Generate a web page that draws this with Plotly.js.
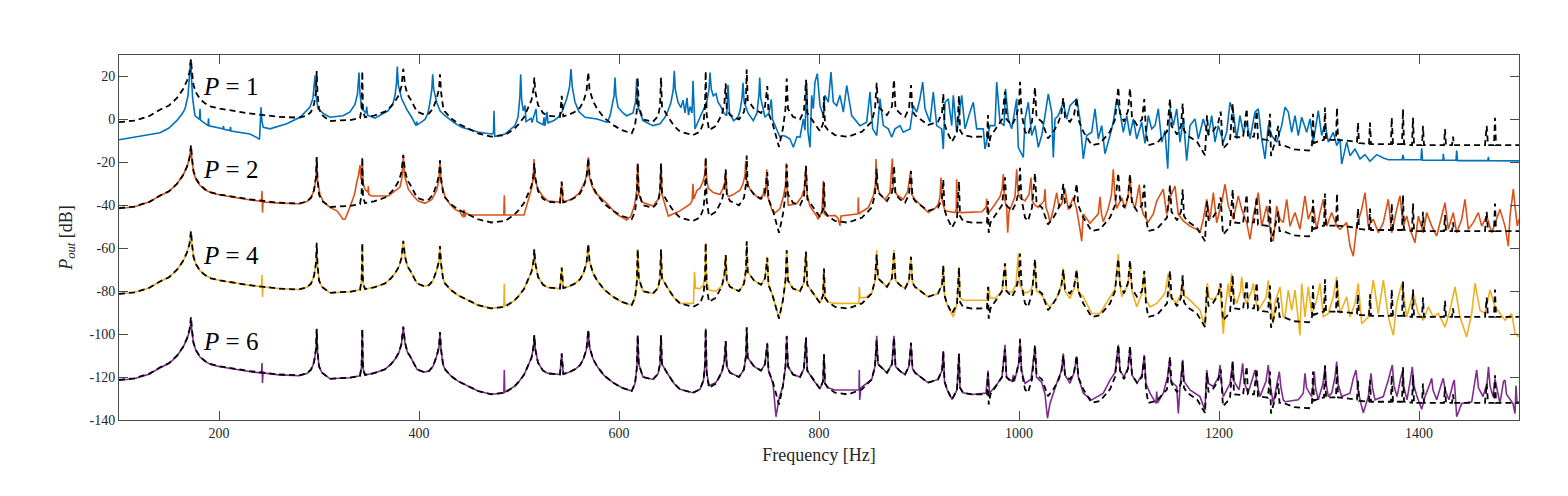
<!DOCTYPE html>
<html>
<head>
<meta charset="utf-8">
<script src="https://cdn.plot.ly/plotly-3.0.1.min.js"></script>
<style>html,body{margin:0;padding:0;background:#fff;}#chart{width:1568px;height:496px;}</style>
</head>
<body>
<div id="chart"></div>
<script>
// Level offsets (dB) applied to each P-series and its dashed reference
const offsets = [0, -40, -80, -120];
const seriesNames = ["P = 1", "P = 2", "P = 4", "P = 6"];
const seriesColors = ["#0072BD", "#D95319", "#EDB120", "#7E2F8E"];
const xTickVals = [200, 400, 600, 800, 1000, 1200, 1400];
const xTickText = ["200", "400", "600", "800", "1000", "1200", "1400"];
const yTickVals = [-140, -120, -100, -80, -60, -40, -20, 0, 20];
const yTickText = ["-140", "-120", "-100", "-80", "-60", "-40", "-20", "0", "20"];
const labelY = [15.2, -23.1, -63.3, -103.5];

// Dashed reference response [Hz, dB relative to the series level]
const refCurve = [[100,-1.3],[115,-0.6],[130,1.5],[141,4.5],[150,6.5],[158,10],[164,14],[168,18],[170.5,22],[172,28],[173,22],[174.5,16],[177,12.5],[181,9.5],[186,7.5],[192,6],[201,5],[215,3.8],[230,2.8],[245,2],[260,1.2],[280,0.8],[288,1.8],[292,3.5],[295,7],[297,13],[297.7,22.5],[298.5,12],[300,5],[303,2],[311,-0.8],[320,-0.5],[331,-0.3],[341,0.6],[342.6,5],[343.3,22.5],[344,4],[346,1],[355,1.8],[366,3.6],[372,6],[376,8.3],[380,11.5],[382.5,15.5],[384.3,23.5],[386,16],[388.5,11.5],[391,9.8],[398,3.6],[405,2.3],[410,2.8],[414,5],[417.7,9.8],[420,14],[421,21],[422,13],[424,6],[426,3.6],[432,0.5],[439,-1.9],[450,-4.5],[459,-6.5],[472,-8],[486,-7.3],[495,-4.5],[499,-2.6],[505,1],[509,5],[512.5,9],[514.5,14],[515.3,19.5],[516.3,13],[519,6.7],[524,3],[529,1.7],[541,1.2],[542.7,11],[544.3,1.4],[550,2.2],[556,3.6],[561,5.5],[564.5,8.5],[567.5,13],[569.3,22],[570.5,14],[574,8.5],[578,5.1],[585,0.8],[594,-2.6],[603,-5],[612.7,-6.5],[616,-3],[617.8,4],[618.7,19.5],[619.8,6],[624,0],[634,-1.1],[639,1.5],[641,6],[642,19.5],[643,6],[648,2],[655,-3],[661,-5.7],[674,-7.3],[681,-5.7],[684.5,-1.5],[686,6],[686.7,22.5],[687.7,2],[690,-5],[697,-3],[703,2.5],[705.5,8],[706.7,16.8],[707.8,5],[711,2],[720,0],[725,3.5],[727,10],[727.7,23.2],[728.7,9],[735,5],[742,3],[746,6],[748.3,15.5],[749.5,3],[754,-2.6],[760,-12.8],[764,-4],[766.5,5],[767.7,19],[769,5],[774,1.2],[781,0],[785,4],[787,18.4],[788.3,3],[794,-1.1],[801,-5.5],[804,-2],[805,10.6],[806,-3],[809,-5],[816,-7.3],[829,-8.1],[843,-5.7],[852.7,-1.1],[856,5],[857.7,17],[859,6],[863,4],[868,2],[873,6],[875,18.5],[876.5,5],[881,2.8],[886,1.2],[890,5],[892,16],[893.5,4],[896,2],[909,-2.6],[919,-1.1],[923,3],[924.3,12],[925.5,-2],[928,-5.7],[933,-10.4],[938,-6],[940,11],[941,-5],[944,-7.3],[953,-8.1],[968,-8],[969,2],[969.7,-12.8],[971.5,-8],[978,-3.4],[983,0],[986,13],[987.5,0],[993,-2.6],[997,1],[1000,7],[1001,17.5],[1002.5,3],[1006,-5.7],[1009,-7.3],[1013,-1],[1016,15],[1017.5,1],[1023,-1.1],[1029,-8.9],[1034,-6],[1039,-2],[1042.5,3],[1044.3,10],[1046,1],[1051,-1.1],[1055,2],[1057.7,10],[1059.3,0],[1064.3,-5.7],[1072.7,-12],[1081,-11.2],[1091,-5.7],[1096,0],[1099.3,15],[1101,3],[1105,-1],[1109,4],[1111,14.5],[1113,1],[1118,-2.6],[1123,0],[1125.3,9.5],[1127,-6],[1129.3,-12],[1138,-11],[1148,-5.7],[1151,9.5],[1152.5,-3],[1158,-7],[1162,-3],[1163.7,7.4],[1165,-5],[1168,-7.3],[1178,-10.4],[1186,-16.7],[1188,1.9],[1189.5,-7],[1194,-5.5],[1199,-2],[1201.7,3.6],[1203,-10],[1204,-13.6],[1211,-10],[1213.7,7.4],[1215,-8],[1224,-8.5],[1227.7,5],[1229,-8],[1235,-8],[1237.7,4],[1239,-9],[1249,-9.6],[1251,2.6],[1252,-17],[1255,-12],[1259.3,-3],[1260.5,-12],[1264,-12],[1275,-14],[1290,-14.5],[1293,-12],[1294,2.6],[1295,-11],[1300,-10],[1305,-9.5],[1306,5.5],[1307,-9.5],[1317,-9.5],[1318,5.5],[1319,-9.5],[1330,-10],[1338,-10.5],[1339,-1.5],[1340,-11],[1350,-11.5],[1351,-1.5],[1352,-11.5],[1372,-11.5],[1372.7,0.8],[1374,-11.5],[1383,-11.5],[1384,4.7],[1385,-11.5],[1393,-12],[1394,0.8],[1395,-12],[1403,-12],[1404,-3],[1405,-12],[1425,-12],[1426,-4.5],[1427,-12],[1433,-12],[1434,-8],[1435,-12],[1466,-12],[1467.7,-3],[1469,-12],[1475,-12],[1476,0.8],[1477,-12],[1500,-12]];

// P = 1 (blue) [Hz, dB relative]
const p1Curve = [[100,-9.5],[120,-8],[141,-6.2],[150,-4],[157.7,-0.6],[163,2.5],[166,4.9],[169,11],[170.8,20],[171.7,28],[172.6,18],[173.7,9.6],[176,1.7],[180.5,0],[181,4.9],[181.5,-0.3],[189,-2.9],[189.5,0.5],[190,-3],[204,-4.4],[204.5,-3],[205,-4.6],[211,-5.2],[211.5,-3.5],[212,-5.4],[231,-6.8],[238,-8.5],[240.5,-9.3],[242,5.7],[243,-1],[244.3,-3.7],[251,-4.4],[267.7,-2],[281,1],[291,5.7],[294,10],[296,20.4],[297,11],[299,5],[305,2.5],[311,1],[324,1.7],[331,3.5],[336,7],[338.5,12],[340,21.8],[341,12],[342.7,5],[347,3],[347.7,6],[348.5,2],[356,0.6],[369,4],[374,7.5],[376,11],[377.5,17],[378.3,24.6],[379.3,16],[382.7,9.6],[388,4.5],[392.7,1],[397,-2.9],[397.7,-1],[398.5,-2.5],[406,0],[409,3],[411,8],[412.8,14],[413.7,21],[414.7,14],[417.7,8],[421,4],[426,1.7],[435,-1.5],[442.7,-3.7],[459,-5.9],[472,-6.8],[474.5,-6.5],[475,4],[475.7,-8],[486,-6.8],[496,-2.9],[499,1],[500.8,10],[501.7,21],[502.7,9],[504.3,4],[506,6.5],[507,-1],[512,0.5],[513,-1.5],[517,4.9],[518,-1],[524,-2.5],[525,1],[526,-3],[528,3.5],[529,-1.6],[535,-0.5],[539.3,1],[543,3.5],[545.5,6.5],[547.7,9.6],[550.5,15],[552,23.4],[553.3,15],[556,8],[560,3.5],[566,1],[578,0.2],[588,-1.3],[591,1.5],[592.7,4.9],[595,11],[596,19.5],[597,11],[599,5.7],[604,3],[607.7,1.7],[614,3],[616.5,8],[617.7,18.9],[619,6],[624,-0.6],[634,-2.9],[641,-2],[646,1],[649,4],[652,8],[654.3,14],[655.3,22.6],[656.3,14],[659,8],[662,5.5],[664,9],[666,3],[668,10],[669.5,2],[671,6],[673,3],[674,18],[675,2],[676,-4.4],[681,1],[685,5],[687.7,8],[690,14],[691,21.8],[692.3,14],[694.3,11],[697,12],[699,8],[701,6.6],[705,3],[707.7,1.7],[709,16],[710.5,3],[714.7,-0.6],[719,1],[721,4],[723,10],[724,17],[725.2,8],[729,3],[734.3,-0.6],[738,3],[740,12],[740.7,19.5],[741.7,10],[746,1],[750,3],[752.3,9.3],[753.5,0],[757.7,-4.4],[761,-8.3],[764,-7.5],[767,-8],[771,-9.1],[774.3,-13],[778,-8],[781,-8.3],[784.3,0.2],[786,-5],[787.7,17],[789,-6],[791,-13],[792.7,11.2],[794.3,5],[796,17.4],[798.3,21.3],[801,6.4],[804.3,1.8],[806,11.2],[809.3,8],[812,22],[814.3,8],[817.7,6.4],[821,11.2],[824.3,3.4],[827.7,15.8],[832.7,1.8],[841,-2.9],[847.7,-1.3],[851,12.7],[853.7,-4.4],[857.7,-7.5],[861,9.6],[864.3,-2.9],[869.3,-4.4],[872.7,-8.3],[876,-4.4],[881,-2.9],[884.3,-6],[891,-4.4],[894.3,6.4],[897.7,3.4],[901,9.6],[903.7,17.4],[906,4.9],[911,-1.3],[914.3,12.7],[917.7,-2.9],[922.7,-4.4],[924.3,-13.8],[926,8],[929.3,9.6],[932.7,-2.9],[934.3,11.2],[937.7,-6],[942.7,11.2],[946,-4.4],[951,3.4],[954.3,8],[957.7,-4.4],[964.3,-4.4],[966,-13.8],[971,-2.9],[976,-2.9],[977.7,17.4],[981,-1.3],[985,-2.9],[986.5,14.3],[989.3,0.2],[992.7,-4.4],[997.7,9.6],[999.3,-13],[1004.3,-17.7],[1006,0.2],[1009.3,8],[1012.7,-7.5],[1016,-2.9],[1019.3,-13],[1022.7,-7.5],[1026,1.8],[1029.3,11.9],[1032.7,3.4],[1034.3,-17.7],[1036,0.2],[1039.3,1.8],[1044.3,8],[1047.7,0.2],[1051,6.4],[1054.3,8],[1057.7,9.6],[1061,0.2],[1064.3,-18.4],[1067.7,-7.5],[1072.7,-6],[1076,4.9],[1079.3,-9.1],[1082.7,-2.9],[1086,-16],[1091,-7.5],[1094.3,-1.3],[1097.7,9.6],[1101,3.4],[1104.3,-6],[1107.7,1.8],[1111,-7.5],[1114.3,0.2],[1117.7,-9.1],[1122.7,-1.3],[1126,-11.2],[1129.3,1.8],[1132.7,-4.4],[1136,-2.9],[1139.3,4.9],[1142.7,-10.6],[1146,-5.2],[1148.7,-23],[1151,4.9],[1154.3,-2.9],[1157.7,4.9],[1161,-10.6],[1164.3,0.2],[1167.7,-19.2],[1171,-2.9],[1176,0.2],[1179.3,-9.1],[1184.3,0.2],[1189.3,-7.5],[1192.7,1.8],[1196,-10.6],[1199.3,-2.9],[1204.3,-10.6],[1207.7,-6],[1211,8],[1214.3,3.4],[1217.7,-9.1],[1221,1.8],[1224.3,-6],[1227.7,-1.3],[1231,-9.1],[1236,3.4],[1239.3,4.9],[1242.7,-9.1],[1246,-18.4],[1249.3,-2.9],[1252.7,-7.5],[1257.7,-10.6],[1262.7,-2.9],[1266,5.7],[1269.3,3.4],[1272.7,-6],[1276,1.8],[1279.3,-7.5],[1282.7,1],[1287.7,-6],[1291,0.2],[1294.3,-10.6],[1299.3,4.1],[1302.7,-7.5],[1306,-2],[1309.3,-10.6],[1314.3,-6],[1317.7,-12.2],[1321,-9.1],[1322.7,-20.8],[1327.7,-10.6],[1331,-16.9],[1336,-13.8],[1341,-18.4],[1346,-16.4],[1351,-19.5],[1357.7,-16.4],[1364.3,-18],[1369.3,-18.8],[1375,-18.8],[1383,-18.8],[1384,-16.5],[1385,-18.8],[1402,-18.8],[1402.7,-13.5],[1403.5,-19],[1424,-19],[1424.3,-16],[1425,-19],[1437,-19],[1437.7,-14.5],[1438.5,-19.2],[1469,-19.2],[1469.3,-17.5],[1470,-19.2],[1500,-19.3]];

// P = 2 (orange) [Hz, dB relative]
const p2Curve = [[100,-1.5],[115,-0.8],[130,1.5],[141,4.5],[150,6.5],[158,10],[164,14],[168,18],[170.5,22],[172,27],[173,21],[174.5,15.5],[177,12],[181,9.2],[186,7.2],[192,5.8],[201,4.8],[215,3.6],[230,2.6],[242.5,1.8],[243,6.7],[243.5,-3.4],[244,1.5],[260,1],[280,0.7],[288,1.8],[292,3.5],[295,7],[297,13],[297.7,22.3],[298.5,12],[301,5],[304,2],[311,-1.1],[318,-2.6],[324,-6.5],[326,-6.5],[330,-2],[332.7,1.2],[335.5,5],[337.7,10.6],[339.5,14],[341,18.7],[342,12],[343.3,20],[344.3,10],[346,7.5],[349,6],[349.3,9],[349.8,5],[352.7,4.3],[369.3,4.3],[376,6.7],[381,8.5],[383,13],[384.3,23],[385.5,14],[389.3,7.5],[395,4],[399.3,2],[406,0.9],[412.7,2.6],[417.7,7],[420,12],[421,20.7],[422,11],[426,4],[431,0.5],[436,-1.9],[441,-3],[444,-5.5],[445,-2],[446,-5.5],[447,-3.5],[450,-4.5],[484.8,-4.5],[485.3,4.7],[485.8,-4.5],[505,-4.5],[507.7,-0.3],[510,3],[512.7,8],[514.3,13],[515,21.5],[516,12],[519,7.5],[524,4],[529,2],[541,1.5],[542.7,10.6],[544,1.5],[552.7,2.8],[560,5.5],[563,8],[566,11],[568,15],[569.3,22.3],[570.5,13],[573,9],[576,6],[587.7,0.9],[597.7,-4.2],[607.7,-6.9],[612,-5],[615.5,0],[617.8,7],[618.7,19.6],[619.8,5],[622.7,1.5],[634.3,-0.3],[639.3,3],[641,7],[642,19.2],[643,5],[649.3,-5],[661,-2.6],[671,0.5],[673,2],[674,10],[674.7,3],[676,5],[678,7],[681,8],[684,11],[686,15],[686.7,21.5],[687.7,12],[689.3,8],[694.3,5.9],[701,5],[704,8],[706,11],[706.7,16],[707.8,6],[709.3,4],[714.3,5],[721,7],[724,10],[726,14],[726.7,20.7],[727.8,11],[731,7.5],[737.7,4],[741,3],[744.3,5],[745,8],[745.7,4],[747,9],[747.7,16.8],[748.8,4],[752.7,-1.9],[756,-3.5],[761,-1.5],[764.3,4],[766.5,9],[767.3,19.6],[768.3,6],[769.3,0],[777.7,0.8],[782.7,4],[785.5,8],[787,18],[788.2,5],[791,-0.5],[797.7,-5],[799,-6.5],[803,-3],[804.3,11.4],[805.2,-4],[808,-5],[816,-4.7],[819,-6],[821,-9.6],[822,-5],[836,-4.2],[839,-4],[839.3,3.6],[839.8,-4],[842.7,-3],[849.3,-1.1],[854.3,4.3],[856.5,10],[857,21.5],[858,9],[861,5],[866,2.7],[871,6],[873.3,21.8],[874.3,8],[877.7,5],[884.3,2.8],[888.7,6.5],[891.7,16],[892.8,5],[896,2.7],[909.3,-3.4],[916,-1.5],[919.3,0.5],[921,4],[922,12.9],[923.2,2],[926,-2.6],[936,-3.4],[937.2,-2],[937.7,12.1],[938.3,-3],[942.7,-3.4],[962.7,-3],[967,-1],[967.7,3],[968.3,-3],[970,-3.4],[976,0.5],[981,4],[983.3,8],[984.3,14.5],[985.5,3],[987.7,-1],[988.7,-12.8],[990,-3],[992.7,0],[996,4],[997.7,16.8],[999,6],[1001,3.5],[1006,2],[1010,5],[1012,12.9],[1013.3,2],[1016,0],[1019.3,-1],[1025,2],[1026,7.5],[1027,-1],[1029.3,-4.2],[1031,-8],[1034.3,-2],[1037.7,5.9],[1040,-1],[1042.7,0.5],[1046,7.5],[1049.3,-2],[1054.3,3.6],[1057.7,-2],[1061,-11.2],[1062.7,-16.7],[1064.3,-4],[1071,-8.4],[1079.3,-4],[1081,4],[1082.5,-4],[1084.3,-7.7],[1089.3,-1.5],[1092.5,5],[1094.3,16.8],[1096,4],[1097.7,-1.5],[1102.7,3.6],[1106,-1.5],[1109,4],[1111,13.7],[1112.5,3],[1116,-1.5],[1120.3,9.6],[1122,0],[1124.3,-4.2],[1129.3,-7.7],[1134.3,-4],[1137.7,2],[1144.3,7.5],[1147.7,-4.2],[1151,3.6],[1156,9],[1159.3,-4.2],[1164.3,-7.3],[1171,-9.7],[1177.7,-11.2],[1181,-12.8],[1184.3,-6.5],[1187.7,2.8],[1191,-6.5],[1194.3,5.9],[1197.7,-8.1],[1202.7,1.2],[1206,9.8],[1209.3,-0.3],[1214.3,-6.5],[1219.3,4.4],[1222.7,-1.9],[1227.7,-8.1],[1231,-15.9],[1234.3,-5],[1239.3,5.9],[1242.7,-9.7],[1247.7,-0.3],[1252.7,-15.9],[1254.3,-16.7],[1257.7,-0.3],[1261,-6.5],[1264.3,-8],[1267.7,2.8],[1271,-9.7],[1276,-3.4],[1281,-11.2],[1286,4.4],[1289.3,-6.5],[1294.3,-0.3],[1297.7,-11.2],[1301,-3.4],[1304.3,2.8],[1307.7,-9.7],[1312.7,-3.4],[1317.7,-9.7],[1321,-11.2],[1327.7,-8.1],[1331,-19],[1334.3,-23.7],[1337.7,-9.7],[1342.7,-1.9],[1346,5.9],[1349.3,-9.7],[1354.3,-6.5],[1359.3,-12.8],[1364.3,-8.1],[1369.3,2.8],[1372.7,-12.8],[1377.7,-1.9],[1381,4.4],[1384.3,-9.7],[1387.7,-5],[1391,-11.2],[1396,-17.4],[1399.3,-5],[1404.3,-12.8],[1407.7,-3.4],[1412.7,-9.7],[1417.7,-14.3],[1422.7,-5],[1426,1.2],[1429.3,-11.2],[1434.3,-3.4],[1437.7,-12.8],[1442.7,-6.5],[1446,2.8],[1449.3,-11.2],[1454.3,-8.1],[1459.3,-3.4],[1462.7,-9.7],[1467.7,-5],[1472.7,-12.8],[1477.7,-6.5],[1481,-1.9],[1486,-9.7],[1489.3,-19],[1491,-5],[1494.3,7.5],[1496,-0.3],[1498.3,-9.7],[1500,-6.5]];

// P = 4 (yellow) [Hz, dB relative]
const p4Curve = [[100,-1.2],[115,-0.6],[130,1.5],[141,4.5],[150,6.5],[158,10],[164,14],[168,18],[170.5,22],[172,27.5],[173,22],[174.5,16],[177,12.5],[181,9.5],[186,7.5],[192,6],[201,5],[215,3.8],[230,2.8],[242.5,2],[243,7.5],[243.5,-2.7],[244,2],[260,1.2],[280,0.8],[288,1.8],[292,3.5],[295,7],[297,13],[297.7,21.5],[298.5,12],[300,5],[303,2],[311,-0.8],[320,-0.5],[331,-0.3],[341,0.6],[342.6,5],[343.3,21.8],[344,4],[346,1],[355,1.8],[366,3.6],[372,6],[376,8.3],[380,11.5],[382.5,15.5],[384.3,23],[386,16],[388.5,11.5],[391,9.8],[398,3.6],[405,2.3],[410,2.8],[414,5],[417.7,9.8],[420,14],[421,20.7],[422,13],[424,6],[426,3.6],[432,0.5],[439,-1.9],[450,-4.5],[459,-6.5],[472,-8],[484.8,-7.4],[485.3,3.6],[485.8,-6.8],[495,-4.5],[499,-2.6],[505,1],[509,5],[512.5,9],[514.5,14],[515.3,19.5],[516.3,13],[519,6.7],[524,3],[529,1.7],[541,1.2],[542.7,10.6],[544.3,1.4],[550,2.2],[556,3.6],[561,5.5],[564.5,8.5],[567.5,13],[569.3,21.5],[570.5,14],[574,8.5],[578,5.1],[585,0.8],[594,-2.6],[603,-5],[612.7,-6.5],[616,-3],[617.8,4],[618.7,19.5],[619.8,6],[624,0],[634,-1.1],[639,1.5],[641,6],[642,19.5],[643,6],[648,2],[655,-3],[661,-5.7],[674.5,-5.7],[675.5,9],[676.5,1.5],[681,1.2],[684.5,3],[686,8],[686.7,22.6],[687.7,4],[690,0.5],[697,0],[703,2.5],[705.5,8],[706.7,16.8],[707.8,5],[711,2],[720,0],[725,3.5],[727,10],[727.7,23],[728.7,9],[735,5],[742,3],[746,6],[748.3,16],[749.5,3],[754,-2.6],[760,-12.8],[764,-4],[766.5,5],[767.7,19.2],[769,5],[774,1.2],[781,0],[785,4],[787,18.4],[788.3,3],[794,-1.1],[801,-5.5],[804,-2],[805,10.6],[806,-3],[809,-5],[816,-5.7],[840,-5.7],[840.3,1.9],[841,-3],[846,-3],[852.7,-1.1],[856,5],[857.7,19.2],[859,6],[863,4],[868,2],[873,6],[875,19.2],[876.5,5],[881,2.8],[886,1.2],[890,5],[892,16],[893.5,4],[896,2],[909,-2.6],[919,-1.1],[923,3],[924.3,12.1],[925.5,-2],[928,-6],[934.3,-12],[938,-6],[940,11.4],[941,-3],[944.3,-4.2],[968,-4.2],[969,-3],[970,2],[971,-3],[976,-3.4],[983,0],[986,12.3],[987.5,0],[993,-0.5],[997,3],[999.3,17.6],[1000.5,3],[1006,-1],[1011,0],[1014,3],[1016,12.3],[1017.5,0],[1023,-2],[1029,-6.5],[1031,-7.3],[1037.7,-3],[1042.5,3],[1044.3,10.6],[1046,0],[1051,-3.4],[1055,1],[1057.7,10.1],[1059.3,0],[1064.3,-2.6],[1072.7,-10.4],[1081,-10.4],[1091,-2.6],[1096,1],[1099.3,17.3],[1101,3],[1102.7,-2.6],[1109,3],[1111,12.9],[1113,0],[1117.7,-7.3],[1123,-1],[1125.3,8.3],[1127,-4],[1131,-7.3],[1137.7,-5.7],[1146,-1],[1149.3,8.3],[1151,-2],[1157.7,-5.7],[1162,-1],[1163.7,6.7],[1165,-2],[1171,-4.2],[1181,-8.9],[1186,-16.7],[1187.5,0],[1188.3,3.6],[1190,-3],[1194.3,-4.2],[1199.5,-1],[1201,3.6],[1202.5,-8],[1204.3,-19.8],[1206,-8],[1209.3,3.6],[1210.5,-3],[1212.7,8.3],[1214.5,-2],[1217.7,-5.7],[1221.5,0],[1222.7,6.7],[1224.5,-2],[1227.7,-5.7],[1232.5,0],[1234.3,3.6],[1236,-3],[1239.3,-8.9],[1247,-3],[1249.3,5.1],[1251,-3],[1252.7,-10.4],[1254.3,-15.1],[1256,-5],[1261,2],[1262.5,-5],[1264.3,-12],[1266,-12],[1269.3,0.5],[1272.7,-8.9],[1276,0.5],[1281,-20.6],[1282.7,3.6],[1286,-12],[1289.3,2],[1292.7,-10.4],[1297.7,-4.2],[1301,3.6],[1304.3,-12],[1309.3,-10.4],[1314.3,-2.6],[1317.7,6.7],[1321,-10.4],[1327.7,-2.6],[1331,-12],[1336,-5.7],[1339.3,3.6],[1342.7,-15.1],[1349.3,-12],[1354.3,5.1],[1359.3,-10.4],[1364.3,5.1],[1369.3,-12],[1374.3,-20.6],[1377.7,-5.7],[1382.7,3.6],[1387.7,-12],[1394.3,-1],[1399.3,-10.4],[1404.3,-13.5],[1409.3,-7.3],[1414.3,-12],[1419.3,-10.4],[1426,-16.7],[1431,-8.9],[1436,2],[1441,-12],[1447.7,-21.3],[1452.7,-10.4],[1456,3.6],[1461,-8.9],[1466,-10.4],[1471,0.5],[1476,-7.3],[1481,-10.4],[1486,-13.5],[1492.7,-10.4],[1496,-19.5],[1500,-21.3]];

// P = 6 (purple) [Hz, dB relative]
const p6Curve = [[100,-1.5],[115,-0.8],[130,1.3],[141,4.3],[150,6.3],[158,9.8],[164,13.8],[168,17.8],[170.5,21.5],[172,25.8],[173,21],[174.5,15.8],[177,12.3],[181,9.3],[186,7.3],[192,5.8],[201,4.8],[215,3.6],[230,2.6],[242.5,1.9],[243,6.5],[243.5,-2.8],[244,1.9],[260,1],[280,0.6],[288,1.6],[292,3.3],[295,6.8],[297,13],[297.7,22],[298.5,12],[300,5],[303,2],[311,-0.8],[320,-0.5],[331,-0.3],[341,0.6],[342.6,5],[343.3,22],[344,4],[346,1],[355,1.8],[366,3.6],[372,6],[376,8.3],[380,11.5],[382.5,15.5],[384.3,23],[386,16],[388.5,11.5],[391,9.8],[398,3.6],[405,2.3],[410,2.8],[414,5],[417.7,9.8],[420,14],[421,20.7],[422,13],[424,6],[426,3.6],[432,0.5],[439,-1.9],[450,-4.5],[459,-6.5],[472,-8],[484.8,-7.4],[485.3,3.3],[485.8,-7],[495,-4.5],[499,-2.6],[505,1],[509,5],[512.5,9],[514.5,14],[515.3,19.5],[516.3,13],[519,6.7],[524,3],[529,1.7],[541,1.2],[542.7,10.6],[544.3,1.4],[550,2.2],[556,3.6],[561,5.5],[564.5,8.5],[567.5,13],[569.3,21.5],[570.5,14],[574,8.5],[578,5.1],[585,0.8],[594,-2.6],[603,-5],[612.7,-6.5],[616,-3],[617.8,4],[618.7,19.5],[619.8,6],[624,0],[634,-1.1],[639,1.5],[641,6],[642,19.5],[643,6],[648,2],[655,-3],[661,-5.7],[674,-7.3],[681,-5.7],[684.5,-1.5],[686,6],[686.7,22.6],[687.7,2],[690,-4],[697,-2.5],[703,2.5],[705.5,8],[706.7,16.8],[707.8,5],[711,2],[720,0],[725,3.5],[727,10],[727.7,23],[728.7,9],[735,5],[742,3],[746,6],[748.3,16],[749.5,3],[754,-3],[757,-18.5],[760,-10],[764,-4],[766.5,5],[767.7,19.2],[769,5],[774,1.2],[781,0],[785,4],[787,18.4],[788.3,3],[794,-1.1],[801,-5.5],[804,-2],[805,10.6],[806,-3],[809,-5],[816,-6],[840,-6],[840.3,3.3],[840.7,-10.7],[842,-5],[852.7,-1.1],[856,5],[857.7,19.2],[859,6],[863,4],[868,2],[873,6],[875,19.2],[876.5,5],[881,2.8],[886,1.2],[890,5],[892,16],[893.5,4],[896,2],[909,-2.6],[919,-1.1],[923,3],[924.3,12.1],[925.5,-2],[928,-5.7],[933,-10.4],[938,-6],[940,11],[941,-5],[944,-7.3],[953,-8.1],[967,-7.5],[969,3],[970.5,-7.5],[978,-3.4],[983,0],[986,15],[987.5,0],[993,-2],[994.5,1],[995.5,-2],[997,1],[1000,7],[1001,18],[1002.5,3],[1006,-3],[1012,-1],[1016,13.6],[1017.5,0],[1022.7,-2.5],[1026,-8],[1028.5,-19.2],[1031,-12.3],[1037.7,-2.9],[1042.5,3],[1044.3,11],[1046,1],[1051,-2.9],[1055,2],[1057.7,9.6],[1059.3,0],[1064.3,-7.5],[1072.7,-10.6],[1084.3,-7.5],[1091,-1.4],[1096,2],[1099.3,15],[1101,3],[1105,0.2],[1109,4],[1111,13.4],[1113,1],[1118,-2.9],[1123,1],[1125.3,10.3],[1127,-3],[1131,-7.5],[1137,-12.3],[1137.7,-6.7],[1138.5,-12],[1144.3,-7.5],[1148.5,0],[1150.3,7.2],[1152,-2],[1157.7,-4.4],[1159.3,-17],[1161,-5],[1163.7,8],[1165,-2],[1171,-6],[1181,-9.1],[1186,-15.4],[1187.7,3.3],[1189.5,-3],[1194.3,-4.4],[1199.5,0],[1201,5.6],[1202.5,-3],[1204.3,-9.1],[1211,-3],[1213.7,7.2],[1215,-2],[1220,-6],[1222,0],[1223.7,6.4],[1225,-2],[1229,-7.5],[1234,0],[1236,3.3],[1238,-3],[1241,-9.1],[1247,-2],[1249.3,5.6],[1251,-3],[1254.3,-12.3],[1258,-3],[1260.3,2.5],[1262,-5],[1264.3,-10.6],[1266,-11.5],[1279.3,-10.6],[1284.3,-7.5],[1286,1.7],[1287.5,-5],[1292.7,-9.1],[1294,-4],[1295.3,2.5],[1296.5,-5],[1299.3,-10.6],[1304,-3],[1306,4.8],[1307.5,-4],[1309.3,-9.1],[1312.7,-7.5],[1316,0],[1317.7,7.2],[1319,-3],[1322.7,-9.1],[1331,-7.5],[1334.3,-0.6],[1337,3.3],[1338.5,-4],[1341,-10.6],[1344.3,-16.6],[1349.3,-9.1],[1352,1.7],[1353.5,-5],[1356,-10.6],[1364.3,-9.1],[1369.3,-1.4],[1373.3,5.6],[1375,-4],[1378,-9.1],[1381.5,-1],[1383.3,2.5],[1385,-5],[1388,-10.6],[1391.5,-1],[1393.3,4.8],[1395,-4],[1398,-9.1],[1402.7,-15],[1406,-9.1],[1411,-3],[1412.7,-0.6],[1414,-6],[1417.7,-10.6],[1422.5,-3],[1424.3,-0.6],[1426,-6],[1430,-10.6],[1434,-3],[1435.3,-1.4],[1437.7,-18.5],[1442.7,-12.3],[1452.7,-11.5],[1456,-2],[1457.7,3.3],[1459.5,-5],[1464,-9.1],[1468,-3],[1469.5,4.8],[1471,-4],[1474,-9.1],[1476,-1],[1477.5,-4],[1481,-12.3],[1484.5,-2],[1486,-1.4],[1487.5,-8],[1494,-12.3],[1496,-17],[1497,-4],[1498,-12],[1500,-11.5]];

const seriesCurves = [p1Curve, p2Curve, p4Curve, p6Curve];

const traces = [];
seriesCurves.forEach((c, i) => {
  traces.push({
    type: 'scatter', mode: 'lines', name: seriesNames[i],
    x: c.map(p => p[0]), y: c.map(p => p[1] + offsets[i]),
    line: {color: seriesColors[i], width: 1.6}, hoverinfo: 'skip'
  });
});
offsets.forEach((o, i) => {
  traces.push({
    type: 'scatter', mode: 'lines', name: 'ref ' + seriesNames[i],
    x: refCurve.map(p => p[0]), y: refCurve.map(p => p[1] + o),
    line: {color: '#000000', width: 1.8, dash: '6px,4px'}, hoverinfo: 'skip'
  });
});

const serif = 'Liberation Serif, Times New Roman, serif';
const annotations = seriesNames.map((n, i) => ({
  x: 182, y: labelY[i], xref: 'x', yref: 'y', xanchor: 'left', yanchor: 'middle',
  text: '<i>P</i> = ' + n.split('= ')[1], showarrow: false,
  font: {family: serif, size: 25, color: '#000'}
}));

const axisCommon = {
  showline: true, mirror: 'ticks', linecolor: '#4a4a4a', linewidth: 1,
  ticks: 'inside', ticklen: 9, tickwidth: 1, tickcolor: '#4a4a4a',
  showgrid: false, zeroline: false,
  tickfont: {family: serif, size: 14, color: '#262626'}
};

const layout = {
  width: 1568, height: 496,
  margin: {l: 119, r: 49, t: 55, b: 76},
  paper_bgcolor: '#ffffff', plot_bgcolor: '#ffffff',
  showlegend: false,
  xaxis: Object.assign({}, axisCommon, {
    range: [100, 1500], tickmode: 'array', tickvals: xTickVals, ticktext: xTickText,
    title: {text: 'Frequency [Hz]', font: {family: serif, size: 18, color: '#262626'}, standoff: 8}
  }),
  yaxis: Object.assign({}, axisCommon, {
    range: [-140, 30], tickmode: 'array', tickvals: yTickVals, ticktext: yTickText,
    title: {text: '<i>P</i><sub><i>out</i></sub> [dB]', font: {family: serif, size: 18, color: '#262626'}, standoff: 12}
  }),
  annotations: annotations
};

Plotly.newPlot('chart', traces, layout, {staticPlot: true, displayModeBar: false});
</script>
</body>
</html>
